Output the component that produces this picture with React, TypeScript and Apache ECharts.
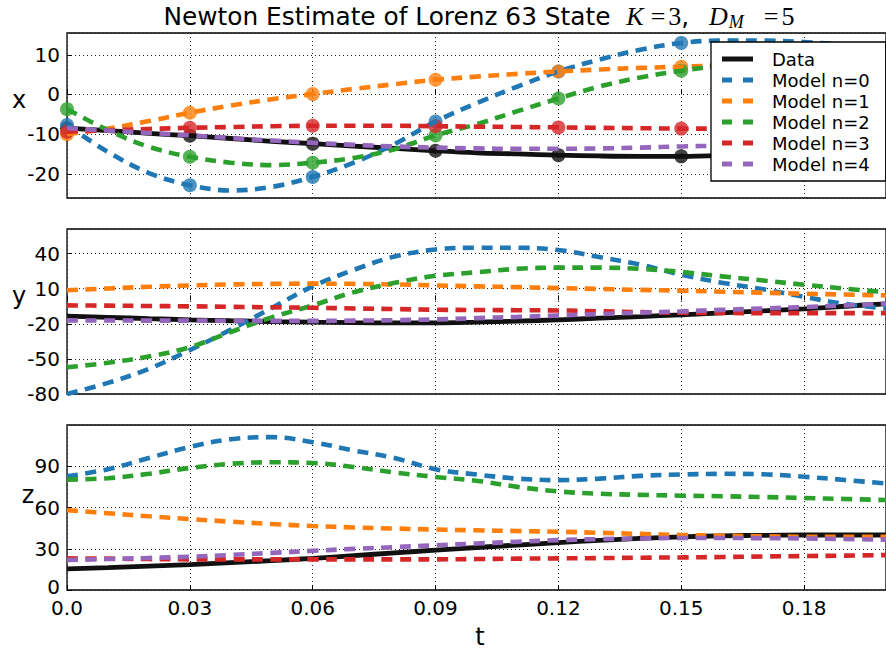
import React, { useEffect, useRef } from 'react';
import * as echarts from 'echarts';

// time samples (s)
const tValues = [0, 0.01, 0.02, 0.03, 0.04, 0.05, 0.06, 0.07, 0.08, 0.09, 0.1, 0.11, 0.12, 0.13, 0.14, 0.15, 0.16, 0.17, 0.18, 0.19, 0.2];
// observation times (markers in the x panel)
const markerTimes = [0, 0.03, 0.06, 0.09, 0.12, 0.15];
const xTickLabels = ['0.0', '0.03', '0.06', '0.09', '0.12', '0.15', '0.18'];

const seriesNames = ['Data', 'Model n=0', 'Model n=1', 'Model n=2', 'Model n=3', 'Model n=4'];
const seriesColors = ['#111111', '#1f77b4', '#ff7f0e', '#2ca02c', '#d62728', '#9467bd'];
const axisNames = ['x', 'y', 'z'];

// x component
const xData = [-8.5, -9.1, -9.8, -10.4, -11.1, -11.8, -12.4, -13.0, -13.6, -14.2, -14.7, -15.0, -15.3, -15.5, -15.6, -15.6, -15.4, -15.0, -14.5, -13.7, -12.8];
const xModel0 = [-7.7, -14.5, -19.8, -22.9, -24.2, -23.3, -20.8, -17.2, -12.5, -6.8, -2.2, 2.0, 5.8, 8.8, 11.3, 13.0, 13.6, 13.6, 13.2, 12.6, 12.0];
const xModel1 = [-10.0, -8.6, -6.7, -4.6, -2.8, -1.2, 0.1, 1.4, 2.6, 3.7, 4.5, 5.2, 5.8, 6.3, 6.7, 7.0, 7.3, 7.6, 7.8, 8.0, 8.2];
const xModel2 = [-3.7, -9.0, -13.2, -15.7, -17.2, -17.8, -17.2, -16.0, -13.8, -10.3, -7.5, -4.2, -1.0, 2.0, 4.3, 6.0, 7.3, 8.3, 9.0, 9.6, 10.0];
const xModel3 = [-9.4, -9.0, -8.7, -8.4, -8.2, -8.0, -7.9, -7.9, -7.9, -8.0, -8.1, -8.2, -8.3, -8.4, -8.5, -8.6, -8.6, -8.7, -8.7, -8.7, -8.7];
const xModel4 = [-8.5, -9.1, -9.7, -10.3, -11.0, -11.6, -12.2, -12.7, -13.1, -13.4, -13.6, -13.7, -13.7, -13.6, -13.4, -13.1, -12.9, -12.6, -12.4, -12.2, -12.0];

// y component
const yData = [-13.5, -14.5, -15.6, -16.6, -17.4, -18.1, -18.6, -19.0, -19.2, -19.2, -18.6, -17.7, -16.6, -15.2, -13.8, -12.3, -10.6, -8.9, -7.2, -5.0, -2.9];
const yModel0 = [-80, -70.5, -58.5, -42.5, -25, -6.5, 12, 26, 37.5, 43.5, 45, 45, 43, 37, 30.5, 22, 15, 9.5, 3, -3, -7];
const yModel1 = [8.6, 10.2, 11.6, 12.8, 13.6, 14.1, 14.3, 14.1, 13.6, 12.8, 12.0, 11.3, 10.5, 9.8, 9.0, 8.3, 7.4, 6.6, 5.7, 5.0, 4.3];
const yModel2 = [-57.2, -53.3, -48, -40, -27, -14.5, -4.3, 7, 15, 21, 24, 27, 28, 28, 27, 24.3, 20.5, 17, 13.4, 10, 7];
const yModel3 = [-4.3, -4.5, -4.8, -5.1, -5.5, -5.9, -6.3, -6.9, -7.4, -8.0, -8.2, -8.4, -8.6, -9.3, -10.0, -10.6, -10.8, -10.9, -10.9, -10.9, -10.9];
const yModel4 = [-17.2, -17.2, -17.3, -17.3, -17.4, -17.5, -17.5, -17.3, -16.9, -16.3, -15.2, -14.1, -12.9, -11.7, -10.5, -9.4, -8.1, -6.9, -5.7, -4.3, -2.9];

// z component
const zData = [15.3, 16.3, 17.4, 18.5, 19.9, 21.4, 23.0, 25.0, 27.0, 29.0, 30.9, 32.7, 34.5, 36.1, 37.5, 38.7, 39.4, 39.8, 40.0, 40.0, 40.0];
const zModel0 = [82.7, 87.8, 96.0, 104.1, 109.7, 111.2, 107.5, 101.5, 96.0, 87.8, 84.0, 81.0, 79.9, 81.0, 83.0, 84.0, 84.5, 84.2, 82.4, 80.0, 77.5];
const zModel1 = [58.1, 55.8, 53.6, 51.6, 49.7, 48.0, 46.5, 45.5, 44.7, 44.0, 43.4, 42.9, 42.4, 41.6, 40.8, 40.0, 39.5, 39.1, 38.7, 38.7, 38.7];
const zModel2 = [80.3, 81.3, 84.5, 88.8, 91.8, 92.9, 92.4, 89.5, 85.5, 82.2, 79.5, 75.0, 71.7, 70.0, 69.2, 68.6, 68.2, 67.6, 66.9, 66.2, 65.4];
const zModel3 = [23.0, 22.8, 22.5, 22.3, 22.3, 22.3, 22.3, 22.3, 22.3, 22.3, 22.5, 22.8, 23.0, 23.2, 23.5, 23.7, 24.0, 24.4, 24.7, 25.0, 25.4];
const zModel4 = [21.8, 22.5, 23.3, 24.2, 25.5, 27.0, 28.5, 29.9, 31.2, 32.5, 33.8, 35.1, 36.3, 37.0, 37.5, 37.8, 37.8, 37.7, 37.5, 37.1, 36.6];

const panelSeries = [
  [xData, xModel0, xModel1, xModel2, xModel3, xModel4],
  [yData, yModel0, yModel1, yModel2, yModel3, yModel4],
  [zData, zModel0, zModel1, zModel2, zModel3, zModel4],
];
// which series get observation markers in the x panel
const markerSeries = [0, 1, 2, 3, 4];

const SANS = 'DejaVu Sans';
const SERIF = 'Liberation Serif';

const gridTops = [33, 229, 425];
const gridHeight = 165;

function buildOption() {
  const grids = gridTops.map((top) => ({
    left: 67,
    top,
    width: 825,
    height: gridHeight,
    show: true,
    borderColor: '#000',
    borderWidth: 1.3,
    backgroundColor: '#fff',
    containLabel: false,
  }));

  const splitLine = { show: true, lineStyle: { color: '#222', width: 1, type: [1, 3] } };
  const tick = { show: true, inside: true, length: 5, lineStyle: { color: '#000', width: 1 } };

  const xAxes = gridTops.map((_, i) => ({
    type: 'value',
    gridIndex: i,
    min: 0,
    max: 0.2,
    interval: 0.03,
    axisLine: { show: false },
    axisTick: tick,
    splitLine,
    axisLabel: {
      show: i === 2,
      fontFamily: SANS,
      fontSize: 20,
      lineHeight: 16,
      color: '#000',
      margin: 10,
      showMaxLabel: false,
      formatter: (v: number) => {
        const idx = Math.round(v / 0.03);
        return xTickLabels[idx] ?? '';
      },
    },
  }));

  const yLabel = {
    fontFamily: SANS,
    fontSize: 20,
    lineHeight: 16,
    color: '#000',
    margin: 7,
    rich: { lo: { fontFamily: SANS, fontSize: 20, lineHeight: 16, color: '#000', padding: [0, 0, 6, 0] } },
  };
  const yAxes = [
    {
      type: 'value', gridIndex: 0, min: -26.1, max: 15.5, splitNumber: 4,
      axisLine: { show: false }, axisTick: tick, splitLine,
      axisLabel: { ...yLabel, showMinLabel: false, showMaxLabel: false },
    },
    {
      type: 'value', gridIndex: 1, min: -80, max: 61, interval: 30,
      axisLine: { show: false }, axisTick: tick, splitLine,
      axisLabel: { ...yLabel, showMaxLabel: false },
    },
    {
      type: 'value', gridIndex: 2, min: 0, max: 120, interval: 30,
      axisLine: { show: false }, axisTick: tick, splitLine,
      axisLabel: {
        ...yLabel,
        showMaxLabel: false,
        formatter: (v: number) => (v === 0 ? '{lo|0}' : String(v)),
      },
    },
  ];

  const series: any[] = [];
  panelSeries.forEach((arrs, p) => {
    arrs.forEach((arr, s) => {
      series.push({
        type: 'line',
        name: seriesNames[s],
        xAxisIndex: p,
        yAxisIndex: p,
        data: tValues.map((t, i) => [t, arr[i]]),
        showSymbol: false,
        symbol: 'none',
        smooth: 0.35,
        silent: true,
        lineStyle: {
          color: seriesColors[s],
          width: s === 0 ? 4.8 : 4.6,
          type: s === 0 ? 'solid' : [11, 7.5],
          cap: 'butt',
        },
        itemStyle: { color: seriesColors[s] },
      });
      if (p === 0 && markerSeries.includes(s)) {
        series.push({
          type: 'scatter',
          name: seriesNames[s] + ' obs',
          xAxisIndex: p,
          yAxisIndex: p,
          data: markerTimes.map((t) => [t, arr[tValues.indexOf(t)]]),
          symbol: 'circle',
          symbolSize: 14,
          silent: true,
          itemStyle: { color: seriesColors[s], borderWidth: 0 },
        });
      }
    });
  });

  const solidIcon = 'path://M0,0H31V5H0Z';
  const dashIcon = 'path://M0,0H10V5H0Z M21,0H31V5H21Z';

  const titleText =
    '{s|Newton Estimate of Lorenz 63 State }{mi|K}{op|=}{mr|3}{s|, }{mi2|D}{sub|M}{op2|=}{mr|5}';

  return {
    animation: false,
    backgroundColor: '#fff',
    grid: grids,
    xAxis: xAxes,
    yAxis: yAxes,
    series,
    legend: {
      data: seriesNames.map((n, i) => ({ name: n, icon: i === 0 ? solidIcon : dashIcon })),
      orient: 'vertical',
      left: 711,
      top: 42,
      itemWidth: 31,
      itemHeight: 5,
      itemGap: 3,
      padding: [8, 16, 8, 11],
      backgroundColor: '#fff',
      borderColor: '#000',
      borderWidth: 1.3,
      borderRadius: 0,
      selectedMode: false,
      itemStyle: { borderWidth: 0 },
      textStyle: { fontFamily: SANS, fontSize: 18, color: '#000', lineHeight: 18, padding: [0, 0, 0, 14] },
      z: 10,
    },
    graphic: [
      {
        type: 'text',
        x: 479,
        y: 16,
        style: {
          text: titleText,
          textAlign: 'center',
          textVerticalAlign: 'middle',
          fill: '#000',
          rich: {
            s: { fontFamily: SANS, fontSize: 24.8, fill: '#000' },
            mi: { fontFamily: SERIF, fontStyle: 'italic', fontSize: 26, padding: [0, 0, 0, 8] },
            op: { fontFamily: SERIF, fontSize: 26, padding: [0, 3, 0, 7] },
            mr: { fontFamily: SERIF, fontSize: 26 },
            mi2: { fontFamily: SERIF, fontStyle: 'italic', fontSize: 26, padding: [0, 0, 0, 12] },
            sub: { fontFamily: SERIF, fontStyle: 'italic', fontSize: 18, padding: [11, 0, 0, 1] },
            op2: { fontFamily: SERIF, fontSize: 26, padding: [0, 3, 0, 20] },
          },
        },
        z: 20,
      },
      ...axisNames.map((n, i) => ({
        type: 'text',
        x: i === 2 ? 28 : 19,
        y: gridTops[i] + gridHeight / 2 - (i === 2 ? 13 : 16),
        style: {
          text: n,
          fontFamily: SANS,
          fontSize: 24,
          fill: '#000',
          textAlign: 'center',
          textVerticalAlign: 'middle',
        },
        z: 20,
      })),
      {
        type: 'text',
        x: 480,
        y: 637,
        style: {
          text: 't',
          fontFamily: SANS,
          fontSize: 24,
          fill: '#000',
          textAlign: 'center',
          textVerticalAlign: 'middle',
        },
        z: 20,
      },
    ],
  };
}

export default function App() {
  const ref = useRef<HTMLDivElement>(null);
  useEffect(() => {
    if (!ref.current) return;
    const chart = echarts.init(ref.current, undefined, { renderer: 'svg' });
    chart.setOption(buildOption() as any);
    return () => chart.dispose();
  }, []);
  return (
    <div
      ref={ref}
      style={{ position: 'fixed', left: 0, top: 0, width: 886, height: 650, background: '#fff' }}
    />
  );
}
